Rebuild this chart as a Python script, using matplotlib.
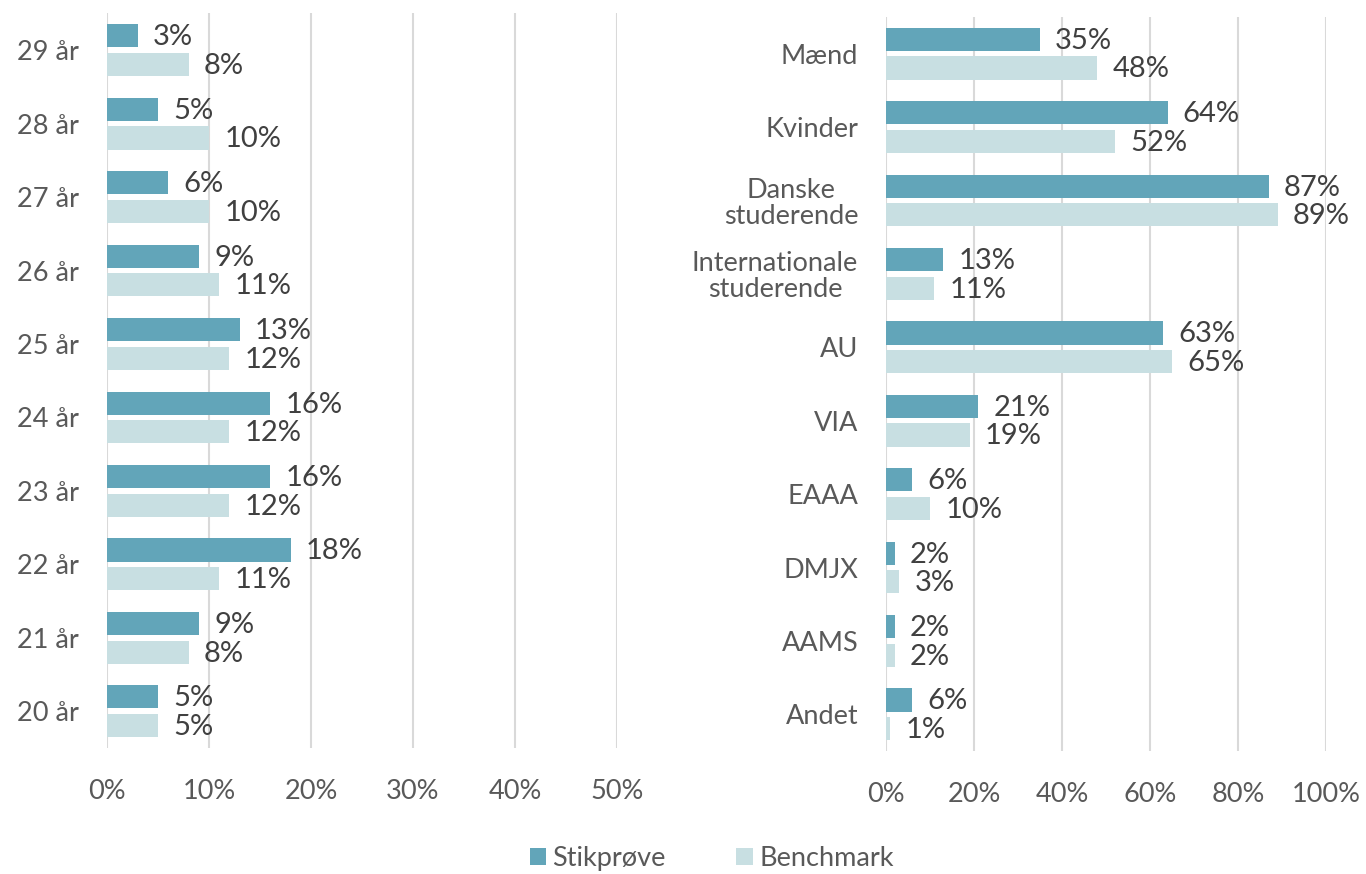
import numpy as np
import matplotlib.pyplot as plt

# age groups (left panel), top to bottom
ages = ["29 år", "28 år", "27 år", "26 år", "25 år", "24 år", "23 år", "22 år", "21 år", "20 år"]
ageSample = [3, 5, 6, 9, 13, 16, 16, 18, 9, 5]
ageBench = [8, 10, 10, 11, 12, 12, 12, 11, 8, 5]

# background groups (right panel), top to bottom
groups = ["Mænd", "Kvinder", "Danske\nstuderende", "Internationale\nstuderende",
          "AU", "VIA", "EAAA", "DMJX", "AAMS", "Andet"]
groupSample = [35, 64, 87, 13, 63, 21, 6, 2, 2, 6]
groupBench = [48, 52, 89, 11, 65, 19, 10, 3, 2, 1]

seriesNames = ["Stikprøve", "Benchmark"]

DARK = "#62A5B9"
LIGHT = "#C8DFE2"
GRID = "#D9D9D9"
TICK = "#595959"
LABEL = "#404040"

plt.rcParams['font.family'] = ['Lato', 'DejaVu Sans']


def drawPanel(ax, cats, sample, bench, xmax, step):
    """Draws one clustered horizontal bar panel with value labels"""
    y = np.arange(len(cats))
    off = 0.195
    h = 0.315
    ax.barh(y - off, sample, height=h, color=DARK, zorder=3, label=seriesNames[0])
    ax.barh(y + off, bench, height=h, color=LIGHT, zorder=3, label=seriesNames[1])

    for i in range(len(cats)):
        ax.annotate(str(sample[i]) + "%", (sample[i], y[i] - off), xytext=(11, -1),
                    textcoords="offset points", va="center", ha="left",
                    fontsize=21, color=LABEL)
        ax.annotate(str(bench[i]) + "%", (bench[i], y[i] + off), xytext=(11, -1),
                    textcoords="offset points", va="center", ha="left",
                    fontsize=21, color=LABEL)

    ax.set_ylim(len(cats) - 0.5, -0.5)
    ax.set_xlim(0, xmax)
    ticks = np.arange(0, xmax + 1, step)
    ax.set_xticks(ticks)
    ax.set_xticklabels([str(t) + "%" for t in ticks])
    ax.set_yticks(y)
    ax.set_yticklabels(cats, multialignment="center", linespacing=1.05)

    ax.grid(axis="x", color=GRID, linewidth=1.5, zorder=0)
    for s in ax.spines.values():
        s.set_visible(False)
    ax.tick_params(axis="x", length=0, pad=22, labelsize=19.5, labelcolor=TICK)
    ax.tick_params(axis="y", length=0, pad=20, labelsize=19.5, labelcolor=TICK)


fig = plt.figure(figsize=(13.66, 8.74), dpi=100)

axLeft = fig.add_axes([0.0783, 0.1442, 0.3734, 0.8404])
drawPanel(axLeft, ages, ageSample, ageBench, 50, 10)

axRight = fig.add_axes([0.6486, 0.1407, 0.3221, 0.8398])
drawPanel(axRight, groups, groupSample, groupBench, 100, 20)

handles, labels = axLeft.get_legend_handles_labels()
fig.legend(handles, labels, loc="center", bbox_to_anchor=(0.521, 0.018), ncol=2,
           frameon=False, fontsize=19.5, labelcolor=TICK, handlelength=0.6,
           handleheight=0.6, handletextpad=0.25, columnspacing=2.6)

plt.savefig("out.png", dpi=100)
